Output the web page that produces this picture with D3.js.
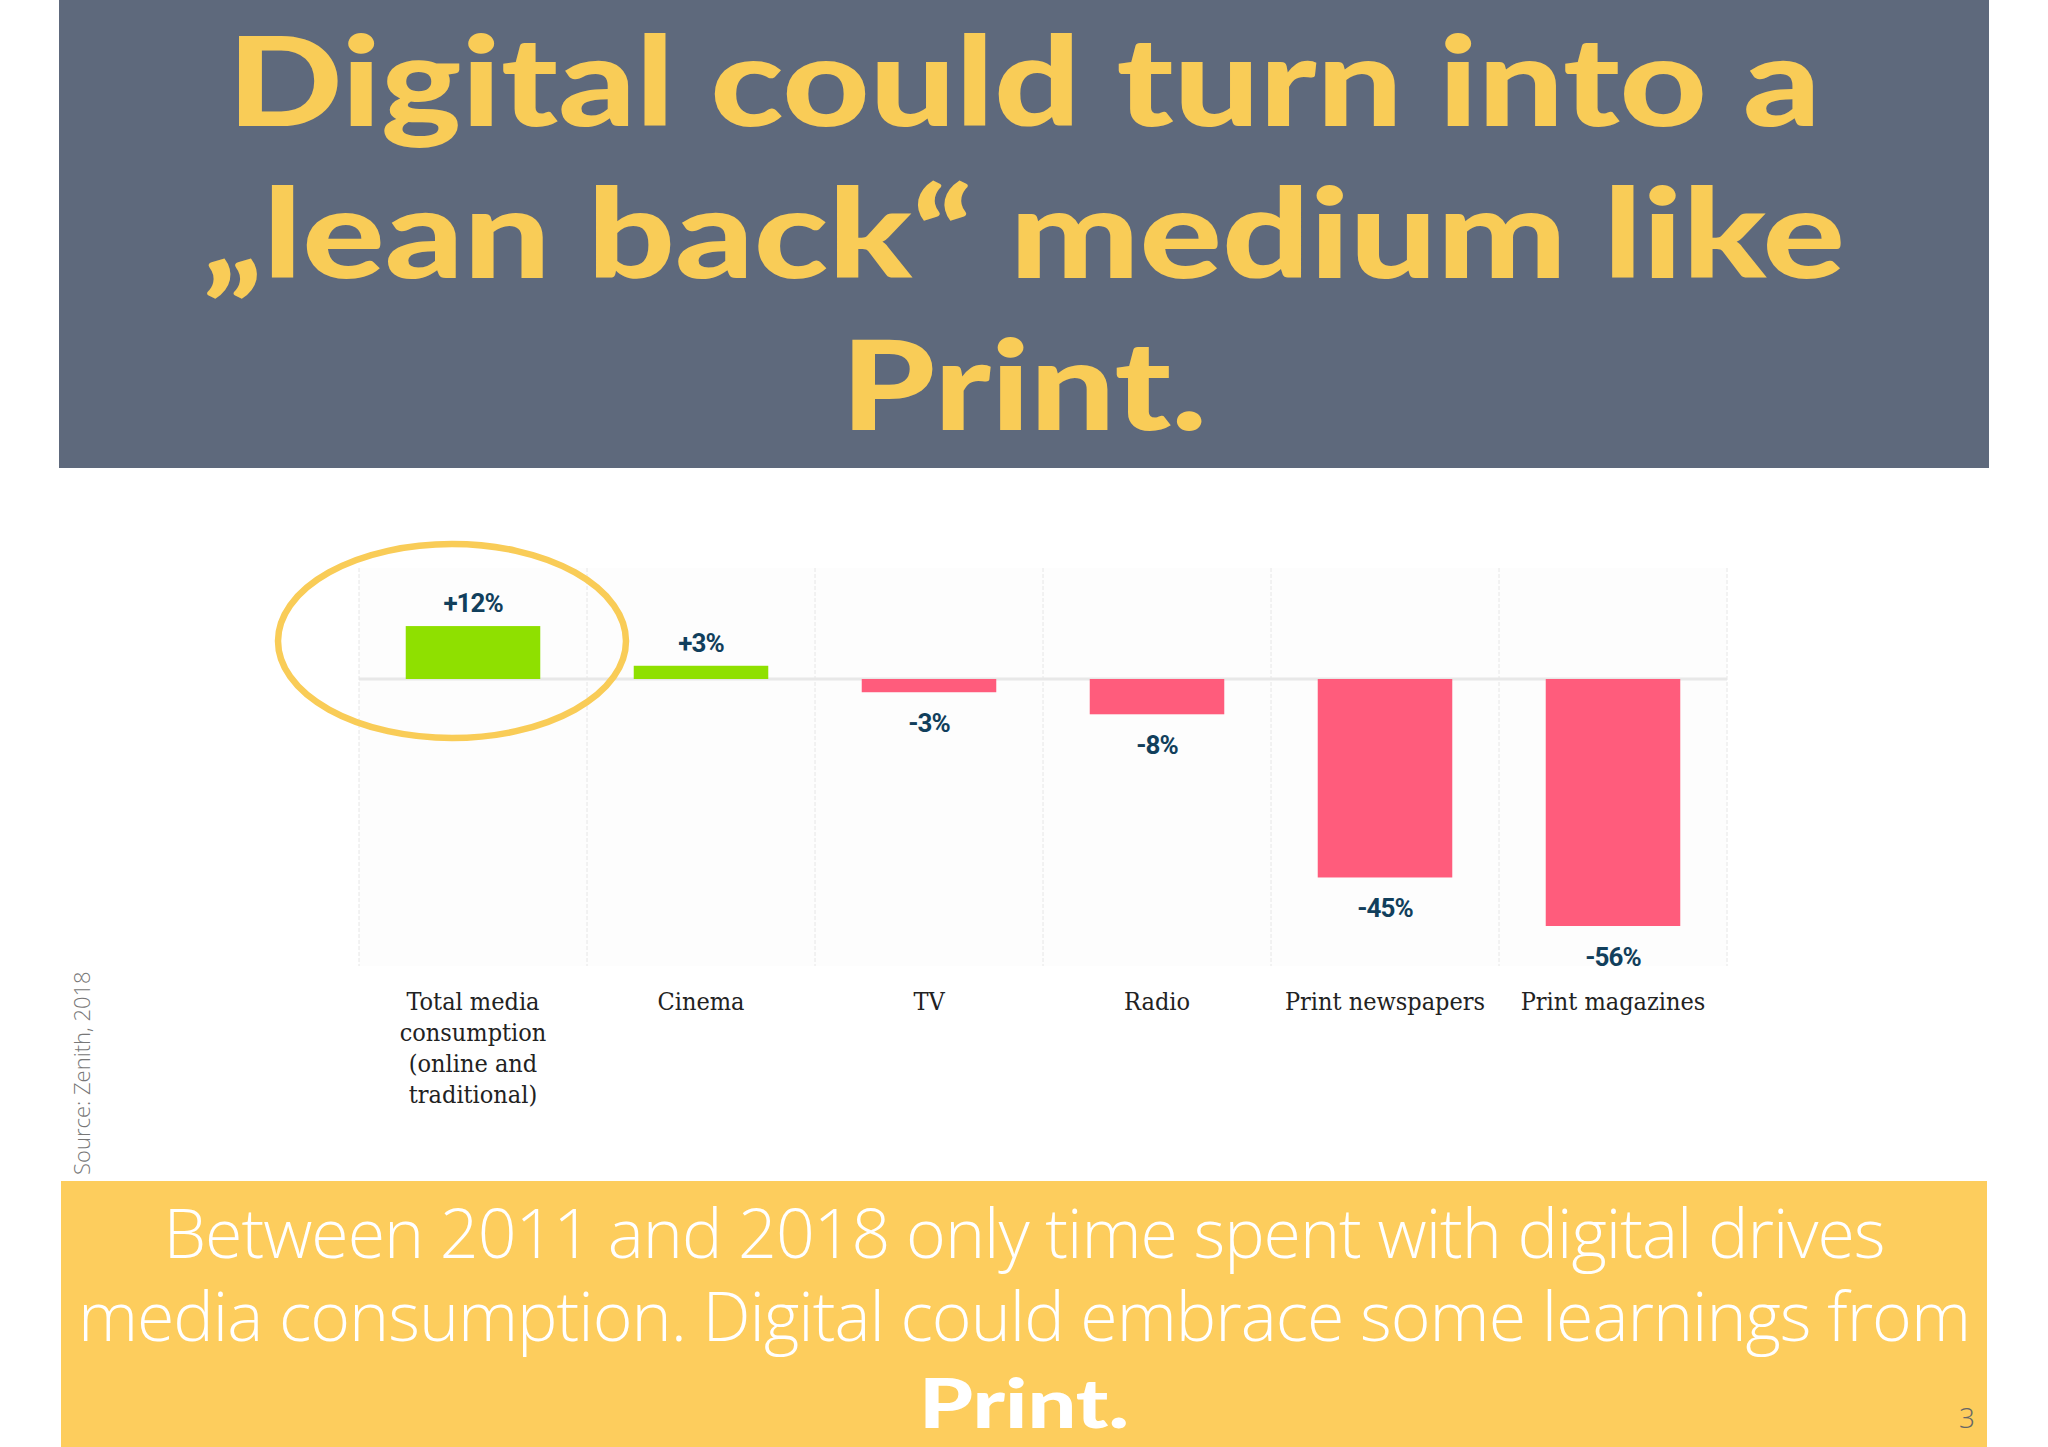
<!DOCTYPE html>
<html><head><meta charset="utf-8">
<script src="https://cdn.jsdelivr.net/npm/d3@7"></script>
<style>body{margin:0;background:#fff}</style>
</head><body>
<svg id="chart" width="2048" height="1447"></svg>
<script>
var categories = ["Total media|consumption|(online and|traditional)", "Cinema", "TV", "Radio", "Print newspapers", "Print magazines"];
var changes = [12, 3, -3, -8, -45, -56];
var valueLabels = ["+12%", "+3%", "-3%", "-8%", "-45%", "-56%"];
var titleLines = ["Digital could turn into a", "\u201elean back\u201c medium like", "Print."];
var titleWidths = [1593, 1642, 366];
var footerLines = ["Between 2011 and 2018 only time spent with digital drives", "media consumption. Digital could embrace some learnings from"];

var svg = d3.select("#chart");
var yellow = "#f9cc57";

// title block
svg.append("rect").attr("x", 59).attr("y", 0).attr("width", 1930).attr("height", 468).attr("fill", "#5e697c");
svg.selectAll(".title").data(titleLines).enter().append("text")
    .attr("x", 1024).attr("y", function(d, i) { return 126 + i * 152; })
    .attr("text-anchor", "middle").attr("fill", yellow)
    .attr("textLength", function(d, i) { return titleWidths[i]; })
    .attr("lengthAdjust", "spacingAndGlyphs")
    .style("font", "900 124px Lato")
    .text(function(d) { return d; });

// chart
var x = d3.scaleBand().domain(categories).range([359, 1727]).paddingInner(0.41).paddingOuter(0.205);
var y = d3.scaleLinear().domain([0, -56]).range([679, 926]);

svg.append("rect").attr("x", 359).attr("y", 568).attr("width", 1368).attr("height", 398).attr("fill", "#fdfdfd");
var step = x.step();
svg.selectAll(".grid").data(d3.range(categories.length + 1)).enter().append("line")
    .attr("x1", function(d) { return 359 + d * step; }).attr("x2", function(d) { return 359 + d * step; })
    .attr("y1", 568).attr("y2", 966).attr("stroke", "#e6e6e6").attr("stroke-dasharray", "4,2");
svg.append("line").attr("x1", 359).attr("x2", 1727).attr("y1", y(0)).attr("y2", y(0)).attr("stroke", "#e8e8e8").attr("stroke-width", 3);

svg.selectAll(".bar").data(changes).enter().append("rect")
    .attr("x", function(d, i) { return x(categories[i]); })
    .attr("width", x.bandwidth())
    .attr("y", function(d) { return Math.min(y(d), y(0)); })
    .attr("height", function(d) { return Math.abs(y(d) - y(0)); })
    .attr("fill", function(d) { return d > 0 ? "#8fe000" : "#ff5c7c"; });

svg.selectAll(".val").data(changes).enter().append("text")
    .attr("x", function(d, i) { return x(categories[i]) + x.bandwidth() / 2; })
    .attr("y", function(d) { return d > 0 ? y(d) - 14 : y(d) + 40; })
    .attr("text-anchor", "middle").attr("fill", "#113f5c")
    .style("font", "bold 26px Roboto").style("letter-spacing", "-1px")
    .text(function(d, i) { return valueLabels[i]; });

svg.selectAll(".cat").data(categories).enter().append("text")
    .attr("x", function(d) { return x(d) + x.bandwidth() / 2; })
    .attr("y", 1010).attr("text-anchor", "middle").attr("fill", "#222")
    .style("font", "25px 'DejaVu Serif Condensed', 'DejaVu Serif'")
    .each(function(d) {
        var t = d3.select(this);
        d.split("|").forEach(function(s, i) { t.append("tspan").attr("x", t.attr("x")).attr("dy", i ? 31 : 0).text(s); });
    });

// highlight ellipse
svg.append("ellipse").attr("cx", x(categories[0]) + x.bandwidth() / 2 - 21).attr("cy", 641)
    .attr("rx", 174).attr("ry", 97).attr("fill", "none").attr("stroke", yellow).attr("stroke-width", 6.5);

svg.append("text").attr("transform", "translate(90,1175) rotate(-90)")
    .attr("fill", "#777").style("font", "300 22px 'Open Sans'").text("Source: Zenith, 2018");

// footer block
svg.append("rect").attr("x", 61).attr("y", 1181).attr("width", 1926).attr("height", 266).attr("fill", "#fdcd5d");
svg.selectAll(".foot").data(footerLines).enter().append("text")
    .attr("x", 1024).attr("y", function(d, i) { return 1258 + i * 83; })
    .attr("text-anchor", "middle").attr("fill", "#fff")
    .style("font", "300 68px 'Open Sans'").style("letter-spacing", "-1px")
    .text(function(d) { return d; });
svg.append("text").attr("x", 1024).attr("y", 1428).attr("text-anchor", "middle").attr("fill", "#fff")
    .attr("textLength", 210).attr("lengthAdjust", "spacingAndGlyphs")
    .style("font", "900 68px Lato").text("Print.");
svg.append("text").attr("x", 1975).attr("y", 1428).attr("text-anchor", "end").attr("fill", "#666")
    .style("font", "300 28px 'Open Sans'").text("3");
</script>
</body></html>
